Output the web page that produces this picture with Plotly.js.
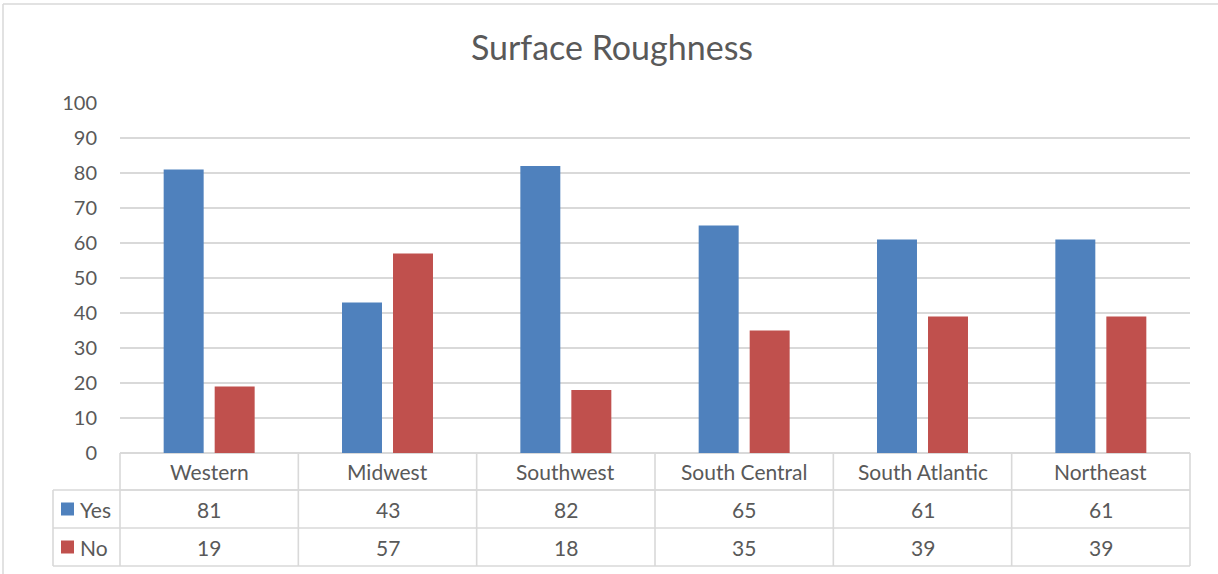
<!DOCTYPE html>
<html>
<head>
<meta charset="utf-8">
<script src="https://cdn.plot.ly/plotly-3.0.1.min.js"></script>
<style>html,body{margin:0;padding:0;background:#fff;}#chart{width:1218px;height:574px;}</style>
</head>
<body>
<div id="chart"></div>
<script>
const categories = ["Western", "Midwest", "Southwest", "South Central", "South Atlantic", "Northeast"];
const seriesNames = ["Yes", "No"];
const yesValues = [81, 43, 82, 65, 61, 61];
const noValues = [19, 57, 18, 35, 39, 39];
const yTicks = [0, 10, 20, 30, 40, 50, 60, 70, 80, 90, 100];

const W = 1218, H = 574;
const M = {l: 120, r: 28, t: 103, b: 121};
const PW = W - M.l - M.r, PH = H - M.t - M.b;
const px = x => (x - M.l) / PW;
const py = y => (H - M.b - y) / PH;

const grey = '#d9d9d9';
const textCol = '#595959';
const font = 'Lato, "Open Sans", sans-serif';
const colors = ['#4f81bd', '#c0504d'];
const values = [yesValues, noValues];
const tsize = 21;

const traces = seriesNames.map((n, i) => ({
  type: 'bar', name: n, x: categories, y: values[i],
  marker: {color: colors[i]}, hoverinfo: 'x+y+name'
}));

const shapes = [];
const annotations = [];
const N = categories.length;
const line = (x0, y0, x1, y1, w) => shapes.push({type: 'line', xref: 'paper', yref: 'paper', x0, y0, x1, y1, line: {color: grey, width: w || 1.6}, layer: 'below'});

const rowCat = [453, 490], rowYes = [490, 528], rowNo = [528, 566];
line(0, py(rowCat[1]), 1, py(rowCat[1]));
line(px(53), py(rowCat[1]), 1, py(rowCat[1]));
line(px(53), py(rowYes[1]), 1, py(rowYes[1]));
line(px(53), py(rowNo[1]), 1, py(rowNo[1]));
for (let i = 0; i <= N; i++) line(i / N, py(rowCat[0]), i / N, py(rowNo[1]));
line(px(53), py(rowYes[0]), px(53), py(rowNo[1]));
line(px(3), py(4), px(3), py(H + 10), 1.5);
line(px(3), py(4), px(W + 10), py(4), 1.5);

const mid = r => py((r[0] + r[1]) / 2);
const tfont = {family: font, size: tsize, color: textCol};
categories.forEach((c, i) => {
  annotations.push({xref: 'x', yref: 'paper', x: c, y: mid(rowCat), text: c, showarrow: false, font: tfont, xanchor: 'center', yanchor: 'middle'});
  annotations.push({xref: 'x', yref: 'paper', x: c, y: mid(rowYes), text: String(yesValues[i]), showarrow: false, font: tfont, xanchor: 'center', yanchor: 'middle'});
  annotations.push({xref: 'x', yref: 'paper', x: c, y: mid(rowNo), text: String(noValues[i]), showarrow: false, font: tfont, xanchor: 'center', yanchor: 'middle'});
});
[rowYes, rowNo].forEach((r, k) => {
  const c = (r[0] + r[1]) / 2;
  shapes.push({type: 'rect', xref: 'paper', yref: 'paper', x0: px(61), x1: px(74), y0: py(c - 6.5), y1: py(c + 6.5), fillcolor: colors[k], line: {width: 0}});
  annotations.push({xref: 'paper', yref: 'paper', x: px(78), y: py(c), text: seriesNames[k], showarrow: false, font: tfont, xanchor: 'left', yanchor: 'middle'});
});

const layout = {
  width: W, height: H,
  margin: M,
  paper_bgcolor: '#fff', plot_bgcolor: '#fff',
  title: {text: 'Surface Roughness', font: {family: font, size: 34, color: textCol}, x: 612 / W, xref: 'container', xanchor: 'center', y: 1 - 48 / H, yref: 'container', yanchor: 'middle'},
  showlegend: false,
  barmode: 'group', bargap: 0.428, bargroupgap: 0.216,
  xaxis: {type: 'category', showticklabels: false, showgrid: false, zeroline: false, showline: false, ticks: '', range: [-0.5, N - 0.5]},
  yaxis: {range: [0, 100], tickvals: yTicks, ticktext: yTicks.map(String), showgrid: true, gridcolor: grey, gridwidth: 1.6, zeroline: true, zerolinecolor: grey, zerolinewidth: 1.6, showline: false, ticks: '', ticklabelstandoff: 22, tickfont: {family: font, size: 20, color: textCol}},
  shapes, annotations
};
Plotly.newPlot('chart', traces, layout, {displayModeBar: false, staticPlot: true});
</script>
</body>
</html>
